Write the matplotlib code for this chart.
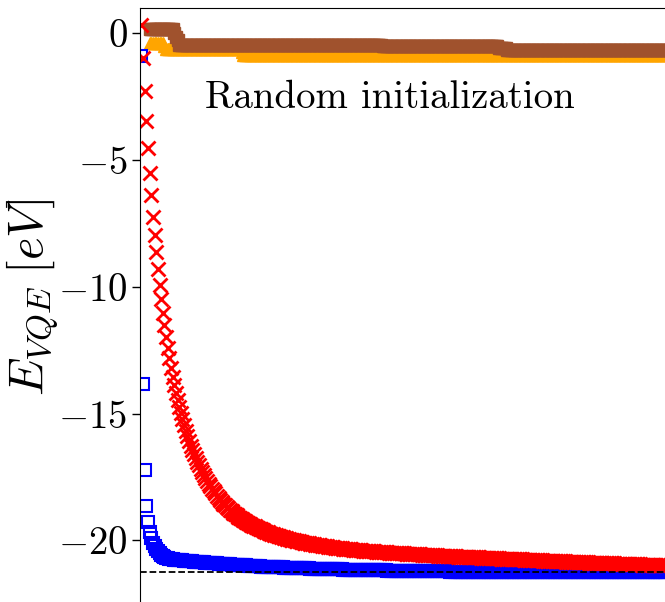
import numpy as np
import matplotlib
matplotlib.use('Agg')
import matplotlib.pyplot as plt
from matplotlib.ticker import FuncFormatter

plt.rcParams['mathtext.fontset'] = 'cm'
plt.rcParams['font.family'] = 'cmr10'
plt.rcParams['axes.unicode_minus'] = False

# energies, one per iteration (0, 1, 2, ...)
red_y = [0.33, -0.97, -2.27, -3.46, -4.52, -5.50, -6.37, -7.24, -7.94, -8.62,
         -9.29, -9.92, -10.48, -11.03, -11.50, -11.97, -12.41, -12.80, -13.20, -13.56,
         -13.87, -14.17, -14.46, -14.73, -14.99, -15.23, -15.46, -15.68, -15.89, -16.08,
         -16.26, -16.43, -16.60, -16.75, -16.90, -17.04, -17.18, -17.31, -17.43, -17.55,
         -17.66, -17.77, -17.87, -17.97, -18.06, -18.15, -18.24, -18.32, -18.40, -18.48,
         -18.55, -18.62, -18.68, -18.74, -18.80, -18.86, -18.91, -18.96, -19.01, -19.06,
         -19.10, -19.15, -19.19, -19.23, -19.27, -19.31, -19.35, -19.39, -19.42, -19.45,
         -19.48, -19.51, -19.54, -19.57, -19.60, -19.63, -19.65, -19.68, -19.70, -19.73,
         -19.75, -19.77, -19.79, -19.81, -19.83, -19.85, -19.87, -19.89, -19.91, -19.93,
         -19.95, -19.97, -19.98, -20.00, -20.01, -20.03, -20.04, -20.06, -20.07, -20.09,
         -20.10, -20.11, -20.12, -20.14, -20.15, -20.16, -20.17, -20.18, -20.19, -20.20,
         -20.21, -20.22, -20.23, -20.24, -20.25, -20.26, -20.27, -20.28, -20.29, -20.30,
         -20.30, -20.31, -20.31, -20.32, -20.33, -20.33, -20.34, -20.35, -20.35, -20.36,
         -20.37, -20.37, -20.38, -20.38, -20.39, -20.40, -20.40, -20.41, -20.41, -20.42,
         -20.42, -20.43, -20.43, -20.44, -20.44, -20.45, -20.45, -20.46, -20.46, -20.47,
         -20.47, -20.48, -20.48, -20.48, -20.48, -20.49, -20.49, -20.50, -20.50, -20.51,
         -20.51, -20.52, -20.52, -20.53, -20.53, -20.53, -20.53, -20.54, -20.54, -20.55,
         -20.55, -20.56, -20.56, -20.57, -20.57, -20.57, -20.57, -20.58, -20.58, -20.59,
         -20.59, -20.60, -20.60, -20.60, -20.60, -20.61, -20.61, -20.62, -20.62, -20.62,
         -20.62, -20.63, -20.63, -20.64, -20.64, -20.64, -20.64, -20.65, -20.65, -20.65,
         -20.65, -20.66, -20.66, -20.67, -20.67, -20.67, -20.67, -20.68, -20.68, -20.69,
         -20.69, -20.69, -20.69, -20.70, -20.70, -20.70, -20.70, -20.71, -20.71, -20.72,
         -20.72, -20.72, -20.72, -20.73, -20.73, -20.74, -20.74, -20.74, -20.74, -20.75,
         -20.75, -20.75, -20.75, -20.76, -20.76, -20.77, -20.77, -20.77, -20.77, -20.78,
         -20.78, -20.78, -20.78, -20.79, -20.79, -20.80, -20.80, -20.80, -20.80, -20.81,
         -20.81, -20.81, -20.81, -20.82, -20.82, -20.83, -20.83, -20.83, -20.83, -20.84,
         -20.84, -20.84, -20.84, -20.85, -20.85, -20.85, -20.85, -20.86, -20.86, -20.87,
         -20.87, -20.87, -20.87, -20.88, -20.88, -20.88, -20.88, -20.89, -20.89, -20.89,
         -20.89, -20.90, -20.90, -20.90, -20.90, -20.91, -20.91, -20.91, -20.91, -20.92,
         -20.92, -20.92, -20.92, -20.93, -20.93, -20.93, -20.93, -20.94, -20.94, -20.94,
         -20.94, -20.95, -20.95, -20.95, -20.95, -20.96, -20.96, -20.96, -20.96, -20.96,
         -20.96, -20.97, -20.97, -20.97, -20.97, -20.98, -20.98, -20.98, -20.98, -20.98,
         -20.99]

blue_head = [-0.90, -13.82, -17.23, -18.63, -19.28, -19.67, -19.92, -20.10, -20.23, -20.34,
             -20.43, -20.50, -20.56, -20.61, -20.65, -20.68, -20.70, -20.72, -20.74, -20.75,
             -20.76, -20.76, -20.77, -20.78, -20.78, -20.79, -20.80, -20.80, -20.81, -20.82,
             -20.82, -20.83, -20.84, -20.84, -20.85, -20.86, -20.86, -20.87, -20.87, -20.88,
             -20.88, -20.89, -20.89, -20.90, -20.90, -20.91, -20.91, -20.92, -20.92, -20.93,
             -20.93, -20.94, -20.94, -20.95, -20.95, -20.96, -20.96, -20.97, -20.97, -20.98,
             -20.98, -20.99, -20.99, -20.99, -20.99, -21.00, -21.00, -21.01, -21.01, -21.01,
             -21.01, -21.02, -21.02, -21.03, -21.03, -21.03, -21.03, -21.04, -21.04, -21.04,
             -21.04, -21.05, -21.05, -21.06, -21.06, -21.06, -21.06, -21.07, -21.07, -21.07,
             -21.07, -21.08, -21.08, -21.08, -21.08, -21.09, -21.09, -21.09, -21.09, -21.10,
             -21.10, -21.10, -21.10, -21.11, -21.11, -21.11, -21.11, -21.12, -21.12, -21.12,
             -21.12, -21.12, -21.12, -21.13, -21.13, -21.13, -21.13, -21.14, -21.14, -21.14,
             -21.14, -21.14, -21.14, -21.15, -21.15, -21.15, -21.15, -21.15, -21.15, -21.16,
             -21.16, -21.16, -21.16, -21.16, -21.16, -21.17, -21.17, -21.17, -21.17, -21.17,
             -21.17]
# flat tail of the blue curve: value and number of iterations it stays there
blue_tail_vals = [-21.18, -21.19, -21.20, -21.21, -21.22, -21.23, -21.24, -21.25]
blue_tail_counts = [9, 8, 8, 10, 12, 43, 50, 40]

# step-like series: plateau values and how many iterations each lasts (starting at iteration 5)
brown_vals = [0.19, 0.03, -0.13, -0.28, -0.44, -0.48, -0.59, -0.64]
brown_counts = [15, 1, 1, 1, 124, 71, 5, 103]
orange_vals = [-0.40, -0.50, -0.60, -0.75, -0.86]
orange_counts = [9, 1, 46, 1, 264]
start_step = 5

e_exact = -21.24

yticks = [0, -5, -10, -15, -20]

red_x = np.arange(len(red_y))
blue_y = np.r_[blue_head, np.repeat(blue_tail_vals, blue_tail_counts)]
blue_x = np.arange(len(blue_y))
brown_y = np.repeat(brown_vals, brown_counts)
brown_x = start_step + np.arange(len(brown_y))
orange_y = np.repeat(orange_vals, orange_counts)
orange_x = start_step + np.arange(len(orange_y))

fig = plt.figure(figsize=(6.65, 6.02), dpi=100)
ax = fig.add_axes([140 / 665, 0, 525 / 665, 594 / 602])

ax.plot(orange_x, orange_y, ls='none', marker='^', ms=9.3, color='orange', mec='orange')
ax.plot(brown_x, brown_y, ls='none', marker='s', ms=9.3, color='sienna', mec='sienna')
ax.plot(blue_x, blue_y, ls='none', marker='s', ms=9.2, mfc='none', mec='blue', mew=1.5)
ax.plot(red_x, red_y, ls='none', marker='x', ms=9.4, color='red', mew=2.0)
ax.axhline(e_exact, color='black', ls='--', lw=1.3)

ax.set_xlim(-0.9, 319.2)
ax.set_ylim(-22.43, 1.0)
ax.set_yticks(yticks)
ax.yaxis.set_major_formatter(FuncFormatter(lambda v, p: r'$%d$' % v))
ax.tick_params(axis='y', labelsize=28, length=6, width=1, pad=3)
ax.set_xticks([])
ax.spines['right'].set_visible(False)
ax.spines['bottom'].set_visible(False)

ax.text(0.476, 0.848, 'Random initialization', transform=ax.transAxes,
        ha='center', va='center', fontsize=28)
fig.text(33 / 665, 1 - 297 / 602, r'$E_{VQE}\;[eV]$', rotation=90,
         ha='center', va='center', fontsize=35)

plt.savefig('out.png', dpi=100)
